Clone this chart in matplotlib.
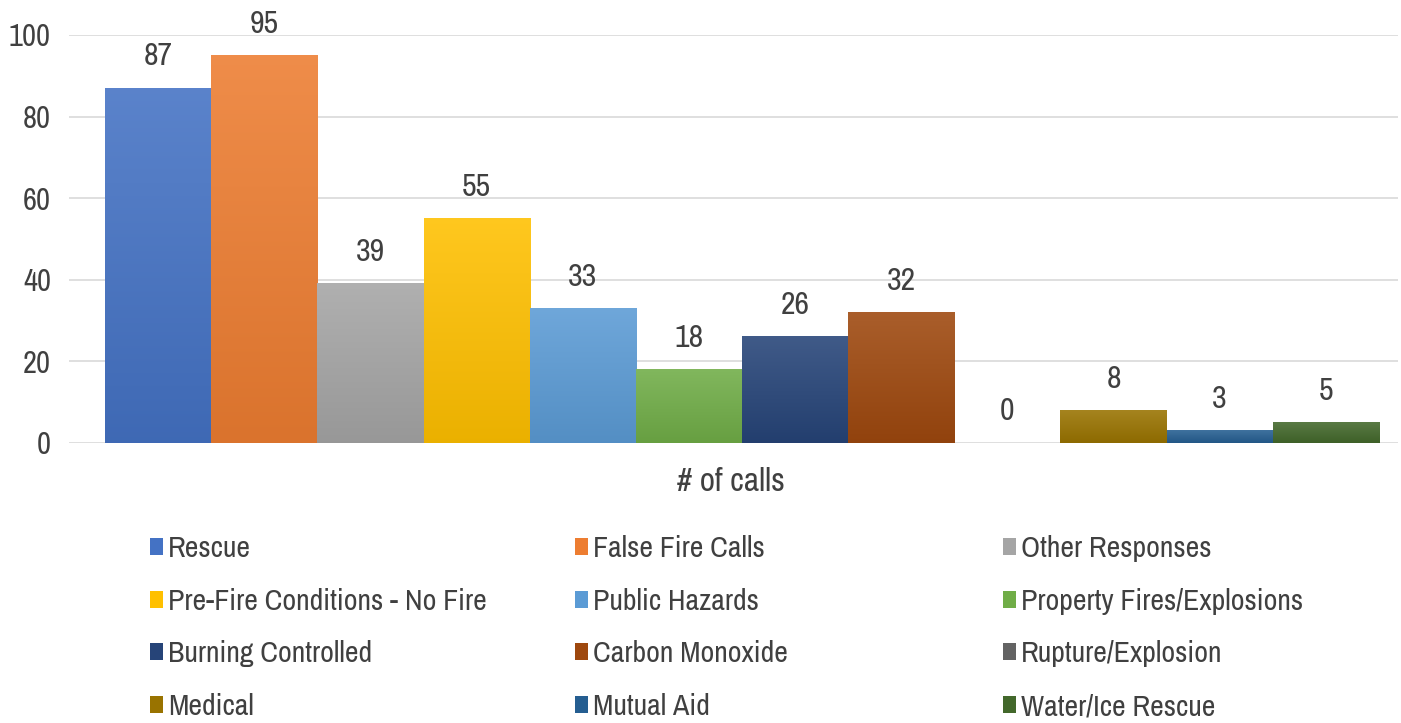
import numpy as np
import matplotlib
matplotlib.use("Agg")
import matplotlib.pyplot as plt
from matplotlib.colors import LinearSegmentedColormap, to_rgb
from matplotlib.patches import Patch

plt.rcParams['font.family'] = ['Archivo Narrow', 'DejaVu Sans']
plt.rcParams['font.stretch'] = 'condensed'

categories = ["Rescue", "False Fire Calls", "Other Responses",
              "Pre-Fire Conditions - No Fire", "Public Hazards", "Property Fires/Explosions",
              "Burning Controlled", "Carbon Monoxide", "Rupture/Explosion",
              "Medical", "Mutual Aid", "Water/Ice Rescue"]
values = [87, 95, 39, 55, 33, 18, 26, 32, 0, 8, 3, 5]
colors = ["#4472C4", "#ED7D31", "#A5A5A5", "#FFC000", "#5B9BD5", "#70AD47",
          "#264478", "#9E480E", "#636363", "#997300", "#255E91", "#43682B"]
yticks = [0, 20, 40, 60, 80, 100]
xlabel = "# of calls"

text_col = "#404040"


def shade(c, f):
    r = np.array(to_rgb(c))
    if f > 0:
        return tuple(r + (1 - r) * f)
    return tuple(r * (1 + f))


fig = plt.figure(figsize=(14.01, 7.23), dpi=100)
ax = fig.add_axes([69 / 1401, 280 / 723, 1329 / 1401, 408 / 723])

x = np.arange(len(values))
for i, (v, c) in enumerate(zip(values, colors)):
    if v <= 0:
        continue
    cmap = LinearSegmentedColormap.from_list("g", [shade(c, -0.08), shade(c, 0.12)])
    grad = np.linspace(0, 1, 256).reshape(-1, 1)
    ax.imshow(grad, cmap=cmap, origin="lower", aspect="auto",
              extent=(x[i] - 0.5, x[i] + 0.5, 0, v), zorder=3, interpolation="bilinear")

for i, v in enumerate(values):
    ax.text(x[i], v + 4.3, str(v), ha="center", va="bottom", fontsize=23, color=text_col)

ax.set_xlim(-0.84, 11.68)
ax.set_ylim(0, 100)
ax.set_yticks(yticks)
ax.set_yticklabels([str(t) for t in yticks], fontsize=22, color=text_col)
ax.tick_params(axis="y", length=0, pad=13)
ax.set_xticks([])
ax.grid(axis="y", color="#d9d9d9", linewidth=1.2, zorder=0)
ax.set_axisbelow(True)
for s in ax.spines.values():
    s.set_visible(False)

fig.text(731 / 1401, 1 - 482 / 723, xlabel, ha="center", va="center", fontsize=24, color=text_col)

# legend: three columns of four rows
col_x = [150 / 1401, 575 / 1401, 1003 / 1401]
for col in range(3):
    idx = [r * 3 + col for r in range(4)]
    handles = [Patch(facecolor=colors[k], edgecolor="none") for k in idx]
    labels = [categories[k] for k in idx]
    leg = fig.legend(handles, labels, loc="upper left",
                     bbox_to_anchor=(col_x[col], 1 - 535 / 723),
                     frameon=False, fontsize=21.5, handlelength=0.45, handleheight=0.5,
                     handletextpad=0.15, labelspacing=0.86, borderpad=0, borderaxespad=0)
    for t in leg.get_texts():
        t.set_color(text_col)

fig.savefig("out.png", dpi=100)
